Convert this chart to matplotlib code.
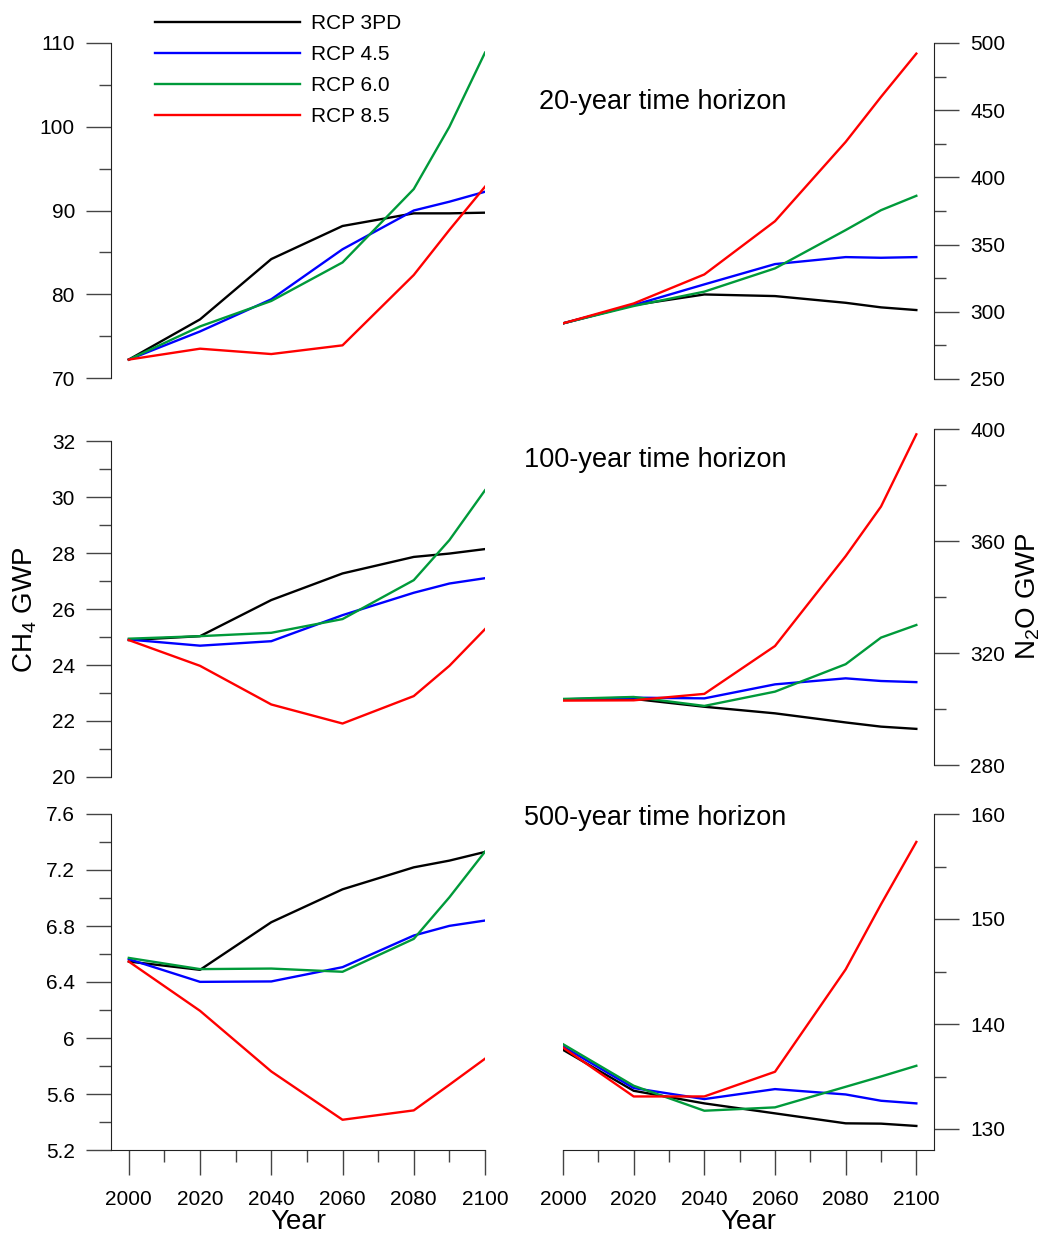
import numpy as np
import matplotlib.pyplot as plt
from matplotlib.ticker import MultipleLocator, FixedLocator, FuncFormatter

plt.rcParams['font.family'] = ['Liberation Sans', 'DejaVu Sans']

years = [2000, 2020, 2040, 2060, 2080, 2090, 2100]
labels = ['RCP 3PD', 'RCP 4.5', 'RCP 6.0', 'RCP 8.5']
colors = ['black', '#0000ff', '#009a3a', '#ff0000']

# CH4 GWP, one row per scenario (3PD, 4.5, 6.0, 8.5)
ch4_20 = [[72.2, 77.0, 84.2, 88.15, 89.66, 89.66, 89.74],
          [72.2, 75.56, 79.4, 85.37, 90.0, 91.05, 92.24],
          [72.2, 76.16, 79.2, 83.8, 92.56, 99.99, 108.85],
          [72.2, 73.5, 72.86, 73.9, 82.3, 87.68, 92.84]]
ch4_100 = [[24.89, 25.03, 26.32, 27.27, 27.86, 27.98, 28.14],
           [24.91, 24.69, 24.85, 25.78, 26.58, 26.91, 27.1],
           [24.94, 25.03, 25.15, 25.64, 27.03, 28.46, 30.24],
           [24.89, 23.97, 22.59, 21.91, 22.89, 23.97, 25.28]]
ch4_500 = [[6.546, 6.487, 6.827, 7.062, 7.219, 7.267, 7.329],
           [6.563, 6.401, 6.404, 6.506, 6.732, 6.801, 6.839],
           [6.572, 6.492, 6.496, 6.473, 6.708, 7.005, 7.331],
           [6.546, 6.194, 5.761, 5.416, 5.483, 5.666, 5.852]]

# N2O GWP
n2o_20 = [[291.4, 305.0, 312.9, 311.7, 306.7, 303.3, 301.3],
          [291.4, 305.0, 320.4, 335.5, 340.7, 340.2, 340.7],
          [291.4, 304.3, 315.0, 332.3, 360.8, 375.6, 386.3],
          [291.4, 306.2, 327.8, 367.4, 426.4, 459.9, 492.1]]
n2o_100 = [[303.45, 303.6, 300.8, 298.45, 295.2, 293.7, 292.9],
           [303.45, 304.05, 303.8, 308.8, 310.95, 310.0, 309.6],
           [303.6, 304.3, 301.1, 306.2, 316.0, 325.5, 330.0],
           [303.0, 303.1, 305.4, 322.5, 354.6, 372.3, 398.1]]
n2o_500 = [[137.54, 133.64, 132.44, 131.49, 130.54, 130.51, 130.29],
           [137.86, 133.9, 132.85, 133.8, 133.29, 132.69, 132.44],
           [138.08, 134.12, 131.74, 132.06, 134.02, 135.0, 136.02],
           [137.76, 133.1, 133.1, 135.45, 145.2, 151.4, 157.34]]

ch4_ticks = [[70, 80, 90, 100, 110], [20, 22, 24, 26, 28, 30, 32],
             [5.2, 5.6, 6.0, 6.4, 6.8, 7.2, 7.6]]
n2o_ticks = [[250, 300, 350, 400, 450, 500], [280, 320, 360, 400],
             [130, 140, 150, 160]]
ch4_minor = [5, 1, 0.2]
n2o_minor = [25, 20, 5]
n2o_bottom = [250, 280, 128]
year_ticks = [2000, 2020, 2040, 2060, 2080, 2100]
titles = ['20-year time horizon', '100-year time horizon', '500-year time horizon']

W, H = 1046, 1238
fig = plt.figure(figsize=(W / 100, H / 100), dpi=100)

# panel boxes in pixels: (x0, x1, ytop, ybottom)
left_boxes = [(111, 485, 43, 378), (111, 485, 441, 777), (111, 485, 814, 1150)]
right_boxes = [(563, 934, 43, 379), (563, 934, 429, 765), (563, 934, 814, 1150)]


def make_ax(box):
    x0, x1, yt, yb = box
    return fig.add_axes([x0 / W, 1 - yb / H, (x1 - x0) / W, (yb - yt) / H])


fmt = FuncFormatter(lambda v, p: f'{v:g}')
tick_col = '#444444'

for i in range(3):
    for side, box, data, ticks, minor, ylo in [
            ('left', left_boxes[i], [ch4_20, ch4_100, ch4_500][i], ch4_ticks[i],
             ch4_minor[i], ch4_ticks[i][0]),
            ('right', right_boxes[i], [n2o_20, n2o_100, n2o_500][i], n2o_ticks[i],
             n2o_minor[i], n2o_bottom[i])]:
        ax = make_ax(box)
        for k in range(4):
            ax.plot(years, data[k], color=colors[k], lw=1.7, label=labels[k])
        ax.set_ylim(ylo, ticks[-1])
        if side == 'left':
            ax.set_xlim(1995, 2100)
        else:
            ax.set_xlim(2000, 2105)
            ax.yaxis.tick_right()
        ax.yaxis.set_major_locator(FixedLocator(ticks))
        ax.yaxis.set_minor_locator(MultipleLocator(minor))
        ax.yaxis.set_major_formatter(fmt)
        for s in ax.spines.values():
            s.set_visible(False)
        ax.spines[side].set_visible(True)
        ax.spines[side].set_color('#222222')
        ax.tick_params(axis='y', which='major', direction='out', length=18,
                       width=1, color=tick_col, pad=8, labelsize=15)
        ax.tick_params(axis='y', which='minor', direction='out', length=8.5,
                       width=1, color=tick_col)
        if i == 2:
            ax.spines['bottom'].set_visible(True)
            ax.spines['bottom'].set_color('#222222')
            ax.xaxis.set_major_locator(FixedLocator(year_ticks))
            ax.xaxis.set_minor_locator(MultipleLocator(10))
            ax.tick_params(axis='x', which='major', direction='out', length=18,
                           width=1, color=tick_col, pad=11, labelsize=15)
            ax.tick_params(axis='x', which='minor', direction='out', length=8.5,
                           width=1, color=tick_col)
            ax.set_xlabel('Year', fontsize=20, labelpad=0)
        else:
            ax.set_xticks([])
            ax.tick_params(axis='x', which='both', length=0)
        ax.patch.set_visible(False)
        if i == 0 and side == 'left':
            ax.legend(loc='upper left', bbox_to_anchor=(155 / W, 1 - 14 / H),
                      bbox_transform=fig.transFigure, frameon=False, fontsize=15,
                      handlelength=6.95, handletextpad=0.55, labelspacing=0.58,
                      borderpad=0, borderaxespad=0)

title_y = [102, 460, 818]
for t, y in zip(titles, title_y):
    fig.text(786 / W, 1 - y / H, t, ha='right', va='center', fontsize=19.5)

fig.text(25 / W, 1 - 610 / H, r'CH$\mathregular{_4}$ GWP', rotation=90,
         ha='center', va='center', fontsize=20)
fig.text(1028 / W, 1 - 596 / H, r'N$\mathregular{_2}$O GWP', rotation=90,
         ha='center', va='center', fontsize=20)

fig.savefig('out.png', dpi=100)
